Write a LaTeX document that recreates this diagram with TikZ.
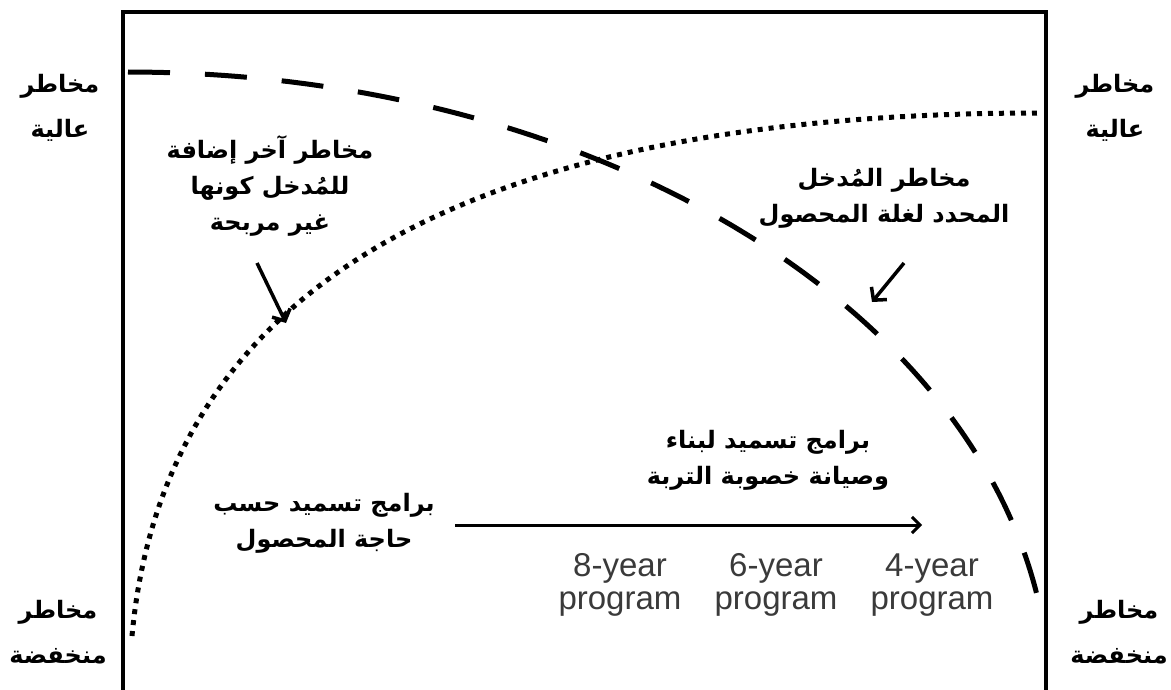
\documentclass[tikz,border=0pt]{standalone}
\usepackage{fontspec}
\setmainfont{Liberation Sans}
\newfontfamily\arabicfont[Script=Arabic]{DejaVu Sans}
\TeXXeTstate=1
\usetikzlibrary{arrows.meta}
\newcommand{\ar}[1]{\beginR #1\endR}
\definecolor{txtgray}{HTML}{3A3A3A}
\begin{document}
\begin{tikzpicture}[x=1pt,y=-1pt,
  artext/.style={align=center,inner sep=0pt,font=\arabicfont\bfseries\fontsize{24}{36}\selectfont},
  sidetext/.style={align=center,inner sep=0pt,font=\arabicfont\bfseries\fontsize{24}{45}\selectfont},
  entext/.style={align=center,inner sep=0pt,text=txtgray,font=\fontsize{33}{33}\selectfont},
  frameline/.style={line width=4pt,line cap=rect},
  riskdash/.style={line width=5pt,dash pattern=on 42pt off 35pt},
  riskdot/.style={line width=5pt,dash pattern=on 5pt off 6pt},
  pointer/.style={line width=3.5pt,-{Straight Barb[length=9pt,width=20pt]}},
  progarrow/.style={line width=3pt,-{Straight Barb[length=8pt,width=16pt]}}
]
\useasboundingbox (0,0) rectangle (1171,690);
\fill[white] (0,0) rectangle (1171,690);
% frame
\draw[frameline] (123,700) -- (123,12) -- (1046,12) -- (1046,700);
% curves
\draw[riskdash] plot[domain=90:7.5,samples=150] ({128+922*cos(\x)},{700-628*sin(\x)});
\draw[riskdot] (132,636) .. controls (160,330) and (400,113) .. (1040,113);
% side labels
\node[sidetext] (hl) at (60,108) {\ar{مخاطر}\\\ar{عالية}};
\node[sidetext] (hr) at (1115,108) {\ar{مخاطر}\\\ar{عالية}};
\node[sidetext] (ll) at (58,632) {\ar{مخاطر}\\\ar{منخفضة}};
\node[sidetext] (lr) at (1119,632) {\ar{مخاطر}\\\ar{منخفضة}};
% annotations
\node[artext] (extra) at (270,186) {\ar{مخاطر آخر إضافة}\\\ar{للمُدخل كونها}\\\ar{غير مربحة}};
\node[artext] (limit) at (884,198) {\ar{مخاطر المُدخل}\\\ar{المحدد لغلة المحصول}};
\node[artext] (build) at (768,460) {\ar{برامج تسميد لبناء}\\\ar{وصيانة خصوبة التربة}};
\node[artext] (need) at (324,523) {\ar{برامج تسميد حسب}\\\ar{حاجة المحصول}};
% pointers
\coordinate (p1s) at (257,263);
\coordinate (p1e) at (286,323);
\coordinate (p2s) at (904,263);
\coordinate (p2e) at (872,302);
\draw[pointer] (p1s) -- (p1e);
\draw[pointer] (p2s) -- (p2e);
% program arrow
\coordinate (as) at (455,525);
\coordinate (ae) at (922,525);
\draw[progarrow] (as) -- (ae);
% program labels
\node[entext] (y8) at (620,586) {\strut 8-year\\\strut program};
\node[entext] (y6) at (776,586) {\strut 6-year\\\strut program};
\node[entext] (y4) at (932,586) {\strut 4-year\\\strut program};
\end{tikzpicture}
\end{document}
